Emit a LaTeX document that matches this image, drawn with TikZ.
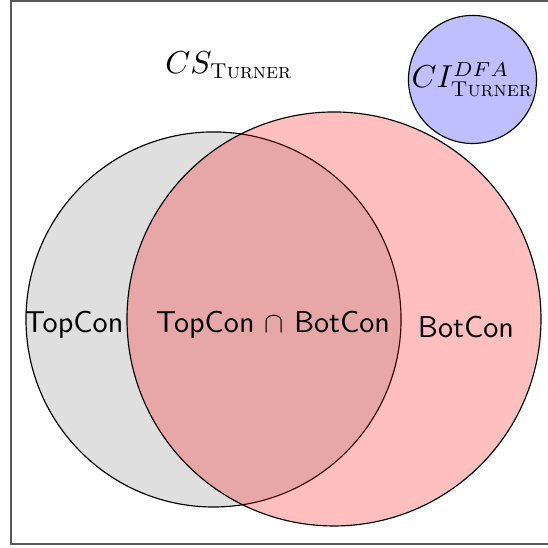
\documentclass[tikz,border=0pt]{standalone}
\usepackage{amsmath}
\usepackage{tikz}
\usetikzlibrary{positioning}

\begin{document}
\begin{tikzpicture}[
    every node/.style={font=\fontsize{10.6pt}{13pt}\selectfont},
    set/.style={circle, draw=black, inner sep=0pt},
    lbl/.style={font=\fontsize{10.4pt}{13pt}\selectfont\sffamily},
    frame/.style={draw=black!65, line width=0.6pt}
]
    \useasboundingbox (0,0) rectangle (6.642,6.630);

    % Universe
    \draw[frame] (0.133,0.036) rectangle (6.691,6.618);
    \node (univ) at (2.776,5.842) {$CS_{\text{\textsc{Turner}}}$};

    % Sets
    \node[set, fill=gray!25, minimum size=4.546cm] (topcon) at (2.588,2.758) {};
    \node[set, fill=red, fill opacity=0.25, minimum size=5.018cm] (botcon) at (4.048,2.764) {};
    \node[set, fill=blue, fill opacity=0.25, text opacity=1, minimum size=1.552cm] (dfa) at (5.727,5.667) {$CI^{DFA}_{\text{\textsc{Turner}}}$};

    % Labels
    \node[lbl] (top) at (0.897,2.691) {TopCon};
    \node[lbl] (both) at (3.309,2.691) {TopCon $\cap$ BotCon};
    \node[lbl] (bot) at (5.648,2.667) {BotCon};
\end{tikzpicture}
\end{document}
